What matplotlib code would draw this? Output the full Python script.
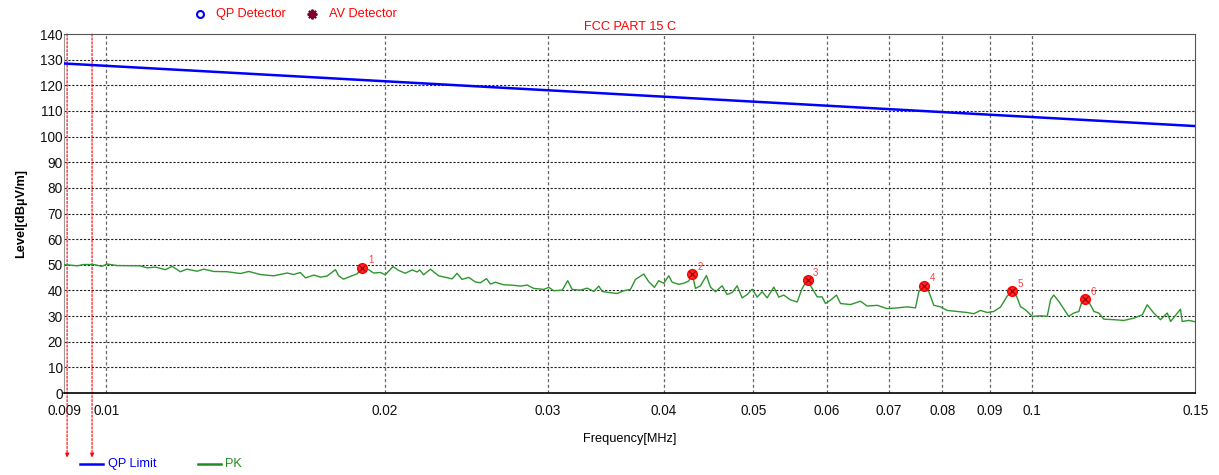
import matplotlib
matplotlib.use("Agg")
import matplotlib.pyplot as plt
from matplotlib.lines import Line2D
from matplotlib.ticker import FixedLocator, NullLocator
import matplotlib.transforms as mtransforms

plt.rcParams["font.family"] = ["Liberation Sans", "DejaVu Sans"]

# QP limit (FCC Part 15 C, 9 kHz - 150 kHz), straight on log axis
limit_freq = [0.009, 0.15]
limit_level = [128.5, 104.1]

# PK trace
pk_freq = [
    0.00900, 0.00907, 0.00930, 0.00945, 0.00969, 0.00989, 0.01002, 0.01027, 0.01088, 0.01107,
    0.01130, 0.01158, 0.01178, 0.01202, 0.01222, 0.01253, 0.01274, 0.01306, 0.01350, 0.01396,
    0.01425, 0.01467, 0.01516, 0.01568, 0.01593, 0.01620, 0.01641, 0.01675, 0.01703, 0.01731,
    0.01768, 0.01782, 0.01804, 0.01835, 0.01866, 0.01889, 0.01920, 0.01944, 0.01977,
    0.02001, 0.02040, 0.02069, 0.02103, 0.02139, 0.02166, 0.02180, 0.02201, 0.02239, 0.02285,
    0.02333, 0.02363, 0.02392, 0.02422, 0.02462, 0.02504, 0.02535, 0.02574, 0.02599, 0.02632,
    0.02687, 0.02754, 0.02801, 0.02848, 0.02895, 0.02968, 0.03005, 0.03042, 0.03107, 0.03150,
    0.03185, 0.03251, 0.03306, 0.03361, 0.03403, 0.03432, 0.03503, 0.03562, 0.03621, 0.03682,
    0.03728, 0.03806, 0.03853, 0.03908, 0.03950, 0.04000, 0.04050,
    0.04084, 0.04152, 0.04204, 0.04257, 0.04293, 0.04328, 0.04382, 0.04448, 0.04493, 0.04549,
    0.04625, 0.04683, 0.04742, 0.04801, 0.04861, 0.04922, 0.04984, 0.05046, 0.05109, 0.05173,
    0.05259, 0.05324, 0.05391, 0.05482, 0.05574, 0.05643, 0.05714, 0.05786, 0.05858, 0.05931,
    0.05980, 0.06055, 0.06146, 0.06208, 0.06364, 0.06524, 0.06634, 0.06801, 0.06972, 0.07147,
    0.07328, 0.07481, 0.07543, 0.07637, 0.07733, 0.07829, 0.07961,
    0.08095, 0.08298, 0.08507, 0.08648, 0.08793, 0.08941, 0.09089, 0.09242, 0.09397, 0.09515,
    0.09617, 0.09713, 0.09835, 0.1000, 0.1021, 0.1038, 0.1047, 0.1055, 0.1069, 0.1082,
    0.1095, 0.1109, 0.1123, 0.1133, 0.1139, 0.1151, 0.1166, 0.1180, 0.1195, 0.1225,
    0.1256, 0.1288, 0.1315, 0.1331, 0.1353, 0.1376, 0.1399, 0.1411, 0.1446, 0.1452,
    0.1476, 0.1500,
]
pk_level = [
    50.0, 50.0, 49.6, 50.1, 50.1, 49.4, 50.3, 49.7, 49.6, 48.8,
    49.1, 48.1, 49.4, 47.3, 48.3, 47.5, 48.3, 47.4, 47.3, 46.6,
    47.4, 46.2, 45.7, 46.8, 46.2, 47.0, 44.9, 46.0, 45.2, 45.6,
    48.1, 45.7, 44.4, 45.5, 46.5, 48.8, 48.1, 46.8, 47.0,
    46.1, 49.3, 47.8, 46.7, 48.0, 47.2, 48.0, 46.1, 48.3, 45.7,
    45.0, 44.5, 46.7, 44.3, 45.1, 43.3, 43.0, 44.6, 42.5, 43.2,
    42.2, 42.0, 41.7, 42.1, 40.8, 40.4, 41.2, 39.9, 40.1, 43.8,
    40.4, 40.1, 40.9, 39.6, 41.7, 39.6, 39.1, 38.8, 39.9, 40.4,
    44.3, 46.4, 43.4, 41.2, 43.8, 42.8, 45.7,
    43.2, 42.4, 42.8, 43.7, 46.5, 40.8, 41.8, 45.8, 41.3, 39.5,
    41.8, 38.4, 39.2, 41.8, 37.1, 38.4, 40.5, 37.4, 39.5, 37.1,
    41.3, 37.4, 38.2, 36.3, 35.5, 40.8, 43.9, 40.8, 37.5, 37.5,
    34.9, 36.2, 38.2, 34.9, 34.5, 35.8, 33.9, 34.2, 32.9, 33.2,
    33.6, 33.2, 39.5, 41.9, 39.5, 34.2, 33.6,
    32.2, 31.8, 31.4, 30.9, 32.2, 31.4, 31.8, 33.5, 37.8, 39.7,
    37.8, 33.7, 32.4, 29.9, 30.1, 29.9, 36.5, 38.2, 35.6, 32.7,
    29.9, 31.2, 31.8, 36.3, 36.7, 35.6, 31.8, 31.2, 28.8, 28.6,
    28.3, 29.2, 30.5, 34.4, 31.2, 28.6, 31.2, 27.9, 32.7, 27.9,
    28.3, 27.8,
]

# peak markers
mark_freq = [0.0189, 0.0429, 0.0572, 0.0764, 0.0952, 0.1139]
mark_level = [48.9, 46.5, 43.9, 41.9, 39.7, 36.6]
mark_labels = ["1", "2", "3", "4", "5", "6"]

# red cursor lines
cursor_freq = [0.00907, 0.00965]

x_ticks = [0.009, 0.01, 0.02, 0.03, 0.04, 0.05, 0.06, 0.07, 0.08, 0.09, 0.1, 0.15]
x_tick_labels = ["0.009", "0.01", "0.02", "0.03", "0.04", "0.05", "0.06", "0.07",
                 "0.08", "0.09", "0.1", "0.15"]
grid_x = [0.01, 0.02, 0.03, 0.04, 0.05, 0.06, 0.07, 0.08, 0.09, 0.1]
y_ticks = list(range(0, 141, 10))

FS = 9.2

fig = plt.figure(figsize=(12.19, 4.75), dpi=100)
ax = fig.add_axes([0.0525, 0.1726, 0.928, 0.7558])

ax.set_xscale("log")
ax.set_xlim(0.009, 0.15)
ax.set_ylim(0, 140)

# grid
for g in grid_x:
    ax.axvline(g, color="#666666", lw=0.9, ls=(0, (2.5, 2)), zorder=1)
for yv in y_ticks[1:-1]:
    ax.axhline(yv, color="#222222", lw=0.8, ls=(0, (2, 1.5)), zorder=1)

ax.plot(limit_freq, limit_level, color="#0000ff", lw=1.8, zorder=3)
ax.plot(pk_freq, pk_level, color="#2f962f", lw=1.0, zorder=3)

ax.plot(mark_freq, mark_level, "o", ms=7, mfc="#ff2a2a", mec="#ff0000", zorder=4)
ax.plot(mark_freq, mark_level, "x", ms=4.5, mec="#b00000", mew=1.0, zorder=5)
for f, l, t in zip(mark_freq, mark_level, mark_labels):
    ax.annotate(t, (f, l), xytext=(4, 3), textcoords="offset points",
                color="#ff4040", fontsize=7, zorder=6)

# cursors with arrows below the axis
trans = mtransforms.blended_transform_factory(ax.transData, ax.transAxes)
for cf in cursor_freq:
    ax.annotate("", xy=(cf, -0.18), xytext=(cf, 1.0), xycoords=trans, textcoords=trans,
                arrowprops=dict(arrowstyle="-|>", color="red", lw=0.8, ls=(0, (2, 1.5)),
                                mutation_scale=6, shrinkA=0, shrinkB=0),
                annotation_clip=False, zorder=2)

ax.xaxis.set_major_locator(FixedLocator(x_ticks))
ax.xaxis.set_minor_locator(NullLocator())
ax.set_xticklabels(x_tick_labels)
ax.set_yticks(y_ticks)
ax.tick_params(axis="both", length=0, labelsize=FS + 0.6, colors="#111111")
ax.tick_params(axis="x", pad=8)
ax.tick_params(axis="y", pad=1)

ax.spines["left"].set_color("#999999")
ax.spines["top"].set_color("#555555")
ax.spines["right"].set_color("#555555")
ax.spines["bottom"].set_color("#000000")
ax.spines["bottom"].set_linewidth(1.2)

ax.set_title("FCC PART 15 C", color="#ff0000", fontsize=FS, pad=3)
ax.set_xlabel("Frequency[MHz]", fontsize=FS, labelpad=11)
ax.set_ylabel("Level[dB\u00b5V/m]", fontsize=FS, fontweight="bold", labelpad=9)

# top legend (detectors)
fig.add_artist(Line2D([200 / 1219], [1 - 14 / 475], marker="o", ms=5, mfc="none",
                      mec="#0000ff", mew=1.5, ls="none"))
fig.text(216 / 1219, 1 - 14 / 475, "QP Detector", color="#ff0000", fontsize=FS, va="center")
fig.add_artist(Line2D([312 / 1219], [1 - 14 / 475], marker=(8, 2, 0), ms=7,
                      mec="#800030", mew=1.5, ls="none"))
fig.text(329 / 1219, 1 - 14 / 475, "AV Detector", color="#ff0000", fontsize=FS, va="center")

# bottom legend (traces)
yb = 1 - 464 / 475
fig.add_artist(Line2D([80 / 1219, 103 / 1219], [yb, yb], color="#0000ff", lw=1.8))
fig.text(108 / 1219, yb, "QP Limit", color="#0000ff", fontsize=FS, va="center")
fig.add_artist(Line2D([198 / 1219, 221 / 1219], [yb, yb], color="#228b22", lw=1.8))
fig.text(225 / 1219, yb, "PK", color="#228b22", fontsize=FS, va="center")

fig.savefig("out.png", dpi=100)
